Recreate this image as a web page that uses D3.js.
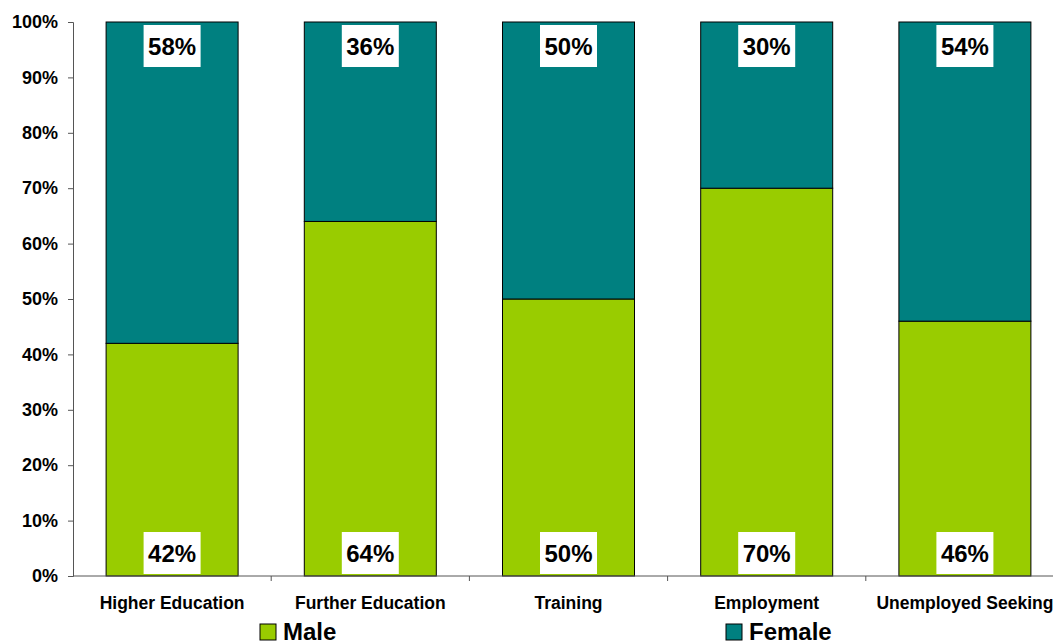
<!DOCTYPE html>
<html>
<head>
<meta charset="utf-8">
<script src="https://cdn.jsdelivr.net/npm/d3@7/dist/d3.min.js"></script>
<style>
  html, body { margin: 0; padding: 0; background: #ffffff; overflow: hidden; }
  svg { display: block; font-family: "Liberation Sans", Arial, sans-serif; font-weight: bold; }
</style>
</head>
<body>
<svg id="chart" width="1053" height="644"></svg>
<script>
// Share of each destination by gender (percent)
const categories = ["Higher Education", "Further Education", "Training", "Employment", "Unemployed Seeking"];
const maleValues = [42, 64, 50, 70, 46];
const femaleValues = [58, 36, 50, 30, 54];
const seriesNames = ["Male", "Female"];
const seriesColors = ["#99CC00", "#008080"];
const yTickValues = [0, 10, 20, 30, 40, 50, 60, 70, 80, 90, 100];

const svg = d3.select("#chart");
const plot = { left: 73, right: 1064, top: 22, bottom: 576 };

const x = d3.scaleBand()
  .domain(categories)
  .range([plot.left, plot.right])
  .paddingInner(0.334)
  .paddingOuter(0.167);

const y = d3.scaleLinear().domain([0, 100]).range([plot.bottom, plot.top]);

const rows = categories.map((c, i) => ({ category: c, male: maleValues[i], female: femaleValues[i] }));
const stacked = d3.stack().keys(["male", "female"])(rows);

// Stacked bars
stacked.forEach((layer, li) => {
  svg.append("g")
    .selectAll("rect")
    .data(layer)
    .join("rect")
    .attr("x", d => x(d.data.category))
    .attr("y", d => y(d[1]))
    .attr("width", x.bandwidth())
    .attr("height", d => y(d[0]) - y(d[1]))
    .attr("fill", seriesColors[li])
    .attr("stroke", "#000")
    .attr("stroke-width", 1);
});

// Y axis
const yAxis = d3.axisLeft(y)
  .tickValues(yTickValues)
  .tickFormat(d => d + "%")
  .tickSize(5)
  .tickPadding(10);
const gy = svg.append("g").attr("transform", `translate(${plot.left},0)`).call(yAxis);
gy.select(".domain").attr("stroke", "#555");
gy.selectAll(".tick line").attr("stroke", "#555");
gy.selectAll(".tick text")
  .attr("fill", "#000")
  .style("font-size", "18px")
  .style("font-weight", "bold")
  .style("font-family", "'Liberation Sans', Arial, sans-serif");

// X axis: baseline with tick marks at category boundaries
const gx = svg.append("g");
gx.append("line")
  .attr("x1", plot.left).attr("x2", plot.right)
  .attr("y1", plot.bottom).attr("y2", plot.bottom)
  .attr("stroke", "#555");
const step = x.step();
categories.forEach((c, i) => {
  const bx = x(c) - step * x.paddingInner() / 2 + step;
  if (i < categories.length - 1) {
    gx.append("line")
      .attr("x1", bx).attr("x2", bx)
      .attr("y1", plot.bottom).attr("y2", plot.bottom + 5)
      .attr("stroke", "#555");
  }
});
gx.selectAll("text.cat")
  .data(categories)
  .join("text")
  .attr("class", "cat")
  .attr("x", d => x(d) + x.bandwidth() / 2)
  .attr("y", 609)
  .attr("text-anchor", "middle")
  .style("font-size", "17.5px")
  .text(d => d);

// Value labels on white boxes
function valueLabel(cx, boxTop, value) {
  const boxW = 57, boxH = 42;
  const g = svg.append("g");
  g.append("rect")
    .attr("x", cx - boxW / 2).attr("y", boxTop)
    .attr("width", boxW).attr("height", boxH)
    .attr("fill", "#fff");
  g.append("text")
    .attr("x", cx).attr("y", boxTop + 30)
    .attr("text-anchor", "middle")
    .style("font-size", "24px")
    .text(value + "%");
}
rows.forEach(r => {
  const cx = x(r.category) + x.bandwidth() / 2;
  valueLabel(cx, y(100) + 3, r.female);
  valueLabel(cx, y(0) - 2 - 42, r.male);
});

// Legend
const legendPos = [260, 726];
seriesNames.forEach((name, i) => {
  const g = svg.append("g").attr("transform", `translate(${legendPos[i]},624)`);
  g.append("rect").attr("width", 16).attr("height", 16)
    .attr("fill", seriesColors[i]).attr("stroke", "#000").attr("stroke-width", 1);
  g.append("text").attr("x", 23).attr("y", 16)
    .style("font-size", "24px")
    .text(name);
});
</script>
</body>
</html>
